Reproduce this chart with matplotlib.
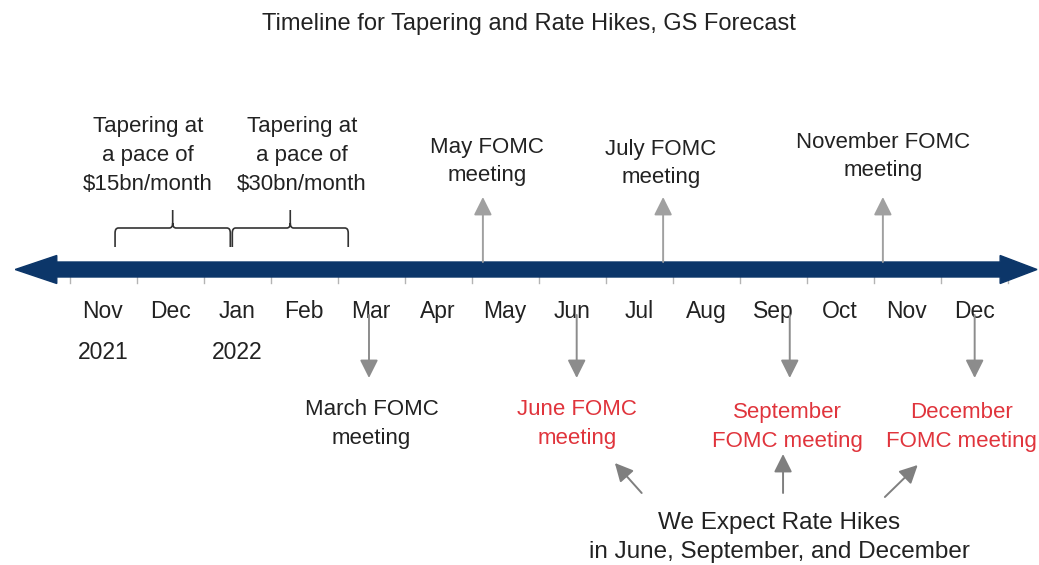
import matplotlib
matplotlib.use("Agg")
from matplotlib import pyplot as plt
from matplotlib.path import Path
from matplotlib.patches import PathPatch, Polygon

# months on the timeline (x = month index, 0 = Nov 2021)
months = ["Nov", "Dec", "Jan", "Feb", "Mar", "Apr", "May",
          "Jun", "Jul", "Aug", "Sep", "Oct", "Nov", "Dec"]
years = {0: "2021", 2: "2022"}

# FOMC meetings above the line: (position in months, label)
meetings_up = [(5.67, "May FOMC\nmeeting"),
               (8.36, "July FOMC\nmeeting"),
               (11.64, "November FOMC\nmeeting")]
# FOMC meetings below the line: (position, label, expected hike)
meetings_down = [(3.97, "March FOMC\nmeeting", False),
                 (7.07, "June FOMC\nmeeting", True),
                 (10.25, "September\nFOMC meeting", True),
                 (13.01, "December\nFOMC meeting", True)]
# tapering periods: (start, end, label)
tapering = [(0.18, 1.90, "Tapering at\na pace of\n$15bn/month"),
            (1.93, 3.66, "Tapering at\na pace of\n$30bn/month")]

TXT = "#222222"
RED = "#e0343c"
NAVY = "#0c3669"
FONT = ["Liberation Sans", "DejaVu Sans"]
FS = 16

plt.rcParams['font.family'] = FONT

fig = plt.figure(figsize=(10.39, 5.65), dpi=100)
ax = fig.add_axes([0, 0, 1, 1])
ax.set_xlim(-103 / 67, (1039 - 103) / 67)
ax.set_ylim(565, 0)
ax.axis("off")


def lines(x, y0, text, gap=29, color=TXT, size=FS):
    for i, s in enumerate(text.split("\n")):
        ax.text(x, y0 + i * gap, s, ha="center", va="baseline", color=color, fontsize=size)


def arrow(x0, y0, x1, y1, color):
    ax.annotate("", xy=(x1, y1), xytext=(x0, y0),
                arrowprops=dict(arrowstyle="-|>,head_length=1.1,head_width=0.55",
                                color=color, lw=1.4, shrinkA=0, shrinkB=0,
                                mutation_scale=10))


def brace(xa, xb, y_end=247, y_h=228, y_tip=210, r=0.05):
    xc = (xa + xb) / 2
    verts = [(xa, y_end), (xa, y_h + 5), (xa, y_h), (xa + r, y_h),
             (xc - r, y_h), (xc, y_h), (xc, y_h - 5), (xc, y_tip),
             (xc, y_h - 5), (xc, y_h), (xc + r, y_h),
             (xb - r, y_h), (xb, y_h), (xb, y_h + 5), (xb, y_end)]
    codes = [Path.MOVETO, Path.LINETO, Path.CURVE3, Path.CURVE3,
             Path.LINETO, Path.CURVE3, Path.CURVE3, Path.LINETO,
             Path.MOVETO, Path.CURVE3, Path.CURVE3,
             Path.LINETO, Path.CURVE3, Path.CURVE3, Path.LINETO]
    ax.add_patch(PathPatch(Path(verts, codes), fill=False, ec="#333333", lw=1.2))
    return xc


# title
ax.text(6.36, 30, "Timeline for Tapering and Rate Hikes, GS Forecast",
        ha="center", va="baseline", color=TXT, fontsize=17)

# timeline bar with arrow heads at both ends
yc, half_bar, half_head = 269.5, 7.5, 14
xl_tip, xl_base, xr_base, xr_tip = -1.31, -0.69, 13.39, 13.94
bar = [(xl_tip, yc), (xl_base, yc - half_head), (xl_base, yc - half_bar),
       (xr_base, yc - half_bar), (xr_base, yc - half_head), (xr_tip, yc),
       (xr_base, yc + half_head), (xr_base, yc + half_bar),
       (xl_base, yc + half_bar), (xl_base, yc + half_head)]
ax.add_patch(Polygon(bar, closed=True, color=NAVY, zorder=3))

# month boundary ticks and labels
for k in range(len(months) + 1):
    ax.plot([k - 0.5, k - 0.5], [yc + half_bar, yc + half_bar + 6], color="#b4b4b4", lw=1)
for i, m in enumerate(months):
    ax.text(i, 318, m, ha="center", va="baseline", color=TXT, fontsize=FS + 0.5)
for i, y in years.items():
    ax.text(i, 359, y, ha="center", va="baseline", color=TXT, fontsize=FS + 0.5)

# tapering braces
for (a, b, label), tx in zip(tapering, [0.67, 2.97]):
    brace(a, b)
    lines(tx, 132, label)

# meetings above
up_text = [5.73, 8.33, 11.64]
up_base = [153, 155, 148]
for (x, label), tx, yb in zip(meetings_up, up_text, up_base):
    arrow(x, yc - half_bar, x, 197, "#a0a0a0")
    lines(tx, yb, label, gap=28)

# meetings below
down_text = [4.01, 7.07, 10.21, 12.81]
down_base = [415, 415, 418, 418]
for (x, label, hike), tx, yb in zip(meetings_down, down_text, down_base):
    arrow(x, 315, x, 378, "#8c8c8c")
    lines(tx, yb, label, color=RED if hike else TXT)

# pointers from the note to the hike meetings
arrow(8.04, 493, 7.64, 463, "#7f7f7f")
arrow(10.15, 493, 10.15, 454, "#7f7f7f")
arrow(11.67, 497, 12.16, 465, "#7f7f7f")
lines(10.09, 529, "We Expect Rate Hikes\nin June, September, and December", size=17.5)

fig.savefig("out.png", dpi=100, facecolor="white")
